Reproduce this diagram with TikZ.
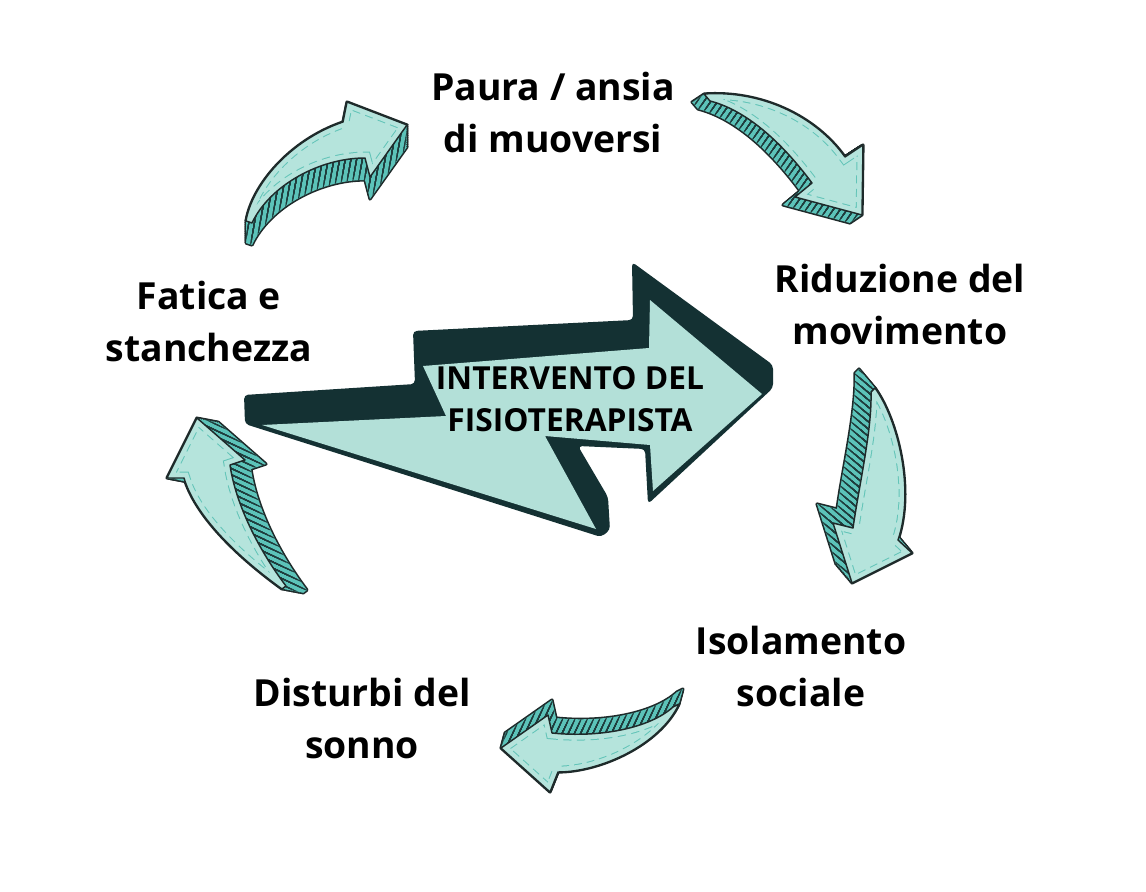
\documentclass[tikz,border=0pt]{standalone}
\usepackage{fontspec}
\setmainfont{Open Sans}
\usetikzlibrary{patterns.meta}
\definecolor{facec}{HTML}{B5E4DC}
\definecolor{sidec}{HTML}{5CC3B9}
\definecolor{hatchc}{HTML}{1F3D3D}
\definecolor{outc}{HTML}{1E2A2A}
\definecolor{dashc}{HTML}{62C4B8}
\definecolor{bigdark}{HTML}{143133}
\definecolor{biglight}{HTML}{B3E0D8}
\tikzset{
  sidestroke/.style={draw=outc,line width=2.4,line join=round},
  sidefill/.style={fill=sidec},
  facefill/.style={fill=facec},
  faceline/.style={draw=outc,line width=1.1,line join=round},
  lbl/.style={font=\fontsize{28}{39}\selectfont\bfseries,align=center,inner sep=0pt,text=black},
  ctr/.style={font=\fontsize{23.8}{31.5}\selectfont\bfseries,align=center,inner sep=0pt,text=black},
}
\newcommand\arrA{(246+\offx,221+\offy) .. controls (252+\offx,185+\offy) and (290+\offx,140+\offy) .. (343+\offx,122+\offy) -- (347+\offx,102+\offy) -- (407+\offx,125+\offy) -- (370+\offx,177+\offy) -- (365+\offx,158+\offy) .. controls (320+\offx,158+\offy) and (270+\offx,185+\offy) .. (252+\offx,223+\offy) -- cycle}
\newcommand\arrB{(704+\offx,94+\offy) .. controls (760+\offx,90+\offy) and (815+\offx,115+\offy) .. (845+\offx,157+\offy) -- (863+\offx,145+\offy) -- (862+\offx,215+\offy) -- (795+\offx,197+\offy) -- (812+\offx,183+\offy) .. controls (780+\offx,140+\offy) and (745+\offx,110+\offy) .. (710+\offx,101+\offy) -- cycle}
\newcommand\arrC{(875+\offx,388+\offy) .. controls (898+\offx,420+\offy) and (915+\offx,490+\offy) .. (898+\offx,540+\offy) -- (912+\offx,553+\offy) -- (852+\offx,583+\offy) -- (833+\offx,523+\offy) -- (853+\offx,528+\offy) .. controls (860+\offx,480+\offy) and (872+\offx,430+\offy) .. (871+\offx,392+\offy) -- cycle}
\newcommand\arrD{(679+\offx,704+\offy) .. controls (660+\offx,745+\offy) and (600+\offx,772+\offy) .. (558+\offx,772+\offy) -- (550+\offx,792+\offy) -- (501+\offx,748+\offy) -- (548+\offx,715+\offy) -- (552+\offx,733+\offy) .. controls (600+\offx,738+\offy) and (650+\offx,728+\offy) .. (673+\offx,707+\offy) -- cycle}
\newcommand\arrE{(282+\offx,589+\offy) .. controls (235+\offx,555+\offy) and (195+\offx,515+\offy) .. (184+\offx,478+\offy) -- (167+\offx,478+\offy) -- (197+\offx,418+\offy) -- (245+\offx,460+\offy) -- (230+\offx,465+\offy) .. controls (235+\offx,500+\offy) and (255+\offx,545+\offy) .. (286+\offx,586+\offy) -- cycle}
\newcommand\curvedarrow[4]{%
  \foreach \k in {0,...,12}{\pgfmathsetmacro\offx{#2*\k/12}\pgfmathsetmacro\offy{#3*\k/12}\path[sidestroke] #1;}
  \foreach \k in {0,...,12}{\pgfmathsetmacro\offx{#2*\k/12}\pgfmathsetmacro\offy{#3*\k/12}\path[sidefill] #1;}
  \foreach \k in {0,...,12}{\pgfmathsetmacro\offx{#2*\k/12}\pgfmathsetmacro\offy{#3*\k/12}\fill[pattern={Lines[angle=#4,distance=4.2pt,line width=0.8pt]},pattern color=hatchc] #1;}
  \def\offx{0}\def\offy{0}%
  \path[facefill] #1;
  \begin{scope}\clip #1;\draw[dashc,line width=9.5,dash pattern=on 6 off 4] #1;\draw[facec,line width=8] #1;\end{scope}
  \path[faceline] #1;
}
\begin{document}
\begin{tikzpicture}[x=0.75pt,y=-0.75pt]
\useasboundingbox (0,0) rectangle (1146,892);
\fill[white] (0,0) rectangle (1146,892);
% curved arrows
\curvedarrow{\arrA}{0}{22}{80}
\curvedarrow{\arrB}{-12}{8}{55}
\curvedarrow{\arrC}{-16}{-19}{-40}
\curvedarrow{\arrD}{4}{-15}{65}
\curvedarrow{\arrE}{21}{4}{-25}
% central arrow
\fill[bigdark,rounded corners=3] (244,395) -- (415,384) -- (413,331) -- (633,320) -- (632,262) -- (773,365) -- (773,388) -- (648,504) -- (645,449) -- (578,446) -- (608,497) -- (610,530) -- (601,537) -- (245,424) -- cycle;
\fill[biglight] (262,425) -- (446,416) -- (423,366) -- (649,348) -- (650,300) -- (762,394) -- (653,491) -- (650,445) -- (545,436) -- (596,529) -- cycle;
% labels
\node[lbl] (paura) at (553,112.5) {Paura / ansia\\di muoversi};
\node[lbl] (riduzione) at (900,304.5) {Riduzione del\\movimento};
\node[lbl] (isolamento) at (801,666) {Isolamento\\sociale};
\node[lbl] (disturbi) at (362,718.5) {Disturbi del\\sonno};
\node[lbl] (fatica) at (209,321) {Fatica e\\stanchezza};
\node[ctr] (intervento) at (570,399.5) {INTERVENTO DEL\\FISIOTERAPISTA};
\end{tikzpicture}
\end{document}
